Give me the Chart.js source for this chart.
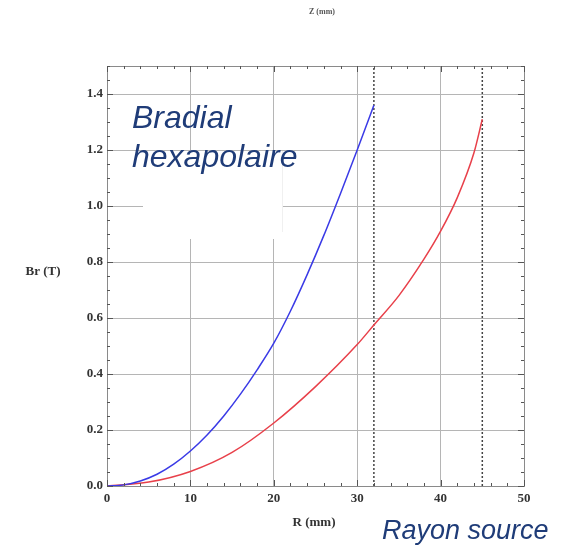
<!DOCTYPE html>
<html>
<head>
<meta charset="utf-8">
<script src="https://cdn.jsdelivr.net/npm/chart.js@4"></script>
<style>
  html, body { margin: 0; padding: 0; background: #ffffff; }
  #wrap { width: 565px; height: 546px; position: relative; }
</style>
</head>
<body>
<div id="wrap"><canvas id="c" width="565" height="546"></canvas></div>
<script>
// ---- data ----
const blueR  = [0, 2, 4, 6, 8, 10, 12, 14, 16, 18, 20, 22, 24, 26, 28, 30, 32];
const blueB  = [0, 0.004, 0.018, 0.042, 0.078, 0.125, 0.182, 0.25, 0.328, 0.415, 0.51, 0.625, 0.755, 0.895, 1.045, 1.2, 1.36];
const redR   = [0, 5, 10, 15, 20, 25, 30, 32, 35, 38, 40, 42, 44, 45];
const redB   = [0, 0.014, 0.052, 0.12, 0.225, 0.355, 0.505, 0.575, 0.68, 0.81, 0.91, 1.03, 1.19, 1.31];
const markerR = [32, 45];          // dotted vertical markers (mm)
const xTicks = [0, 10, 20, 30, 40, 50];
const yTicks = [0.0, 0.2, 0.4, 0.6, 0.8, 1.0, 1.2, 1.4];
const xRange = [0, 50];
const yRange = [0, 1.5];

const toPts = (xs, ys) => xs.map((x, i) => ({ x: x, y: ys[i] }));

const markerSets = markerR.map(r => ({
  data: [{ x: r, y: yRange[0] }, { x: r, y: yRange[1] }],
  showLine: true, borderColor: '#444444', borderWidth: 1.5,
  borderDash: [2, 2], pointRadius: 0, fill: false
}));

const tickFont = { family: 'Liberation Serif', size: 13, weight: 'bold' };

const framePlugin = {
  id: 'frame',
  beforeDatasetsDraw(chart) {
    const ctx = chart.ctx;
    ctx.save();
    // white patch hiding grid behind the label box
    ctx.fillStyle = '#ffffff';
    ctx.fillRect(143, 151, 139, 88);
    ctx.strokeStyle = '#f0f0f0';
    ctx.lineWidth = 1;
    ctx.beginPath(); ctx.moveTo(282.5, 151); ctx.lineTo(282.5, 232); ctx.stroke();
    ctx.restore();
  },
  afterDatasetsDraw(chart) {
    const ctx = chart.ctx;
    const a = chart.chartArea;
    const xs = chart.scales.x, ys = chart.scales.y;
    ctx.save();
    ctx.strokeStyle = '#8a8a8a';
    ctx.lineWidth = 1;
    ctx.strokeRect(Math.round(a.left) + 0.5, Math.round(a.top) + 0.5,
                   Math.round(a.right - a.left), Math.round(a.bottom - a.top));
    ctx.strokeStyle = '#555555';
    ctx.beginPath();
    for (let v = xRange[0]; v <= xRange[1] + 1e-9; v += 2) {
      const px = Math.round(xs.getPixelForValue(v)) + 0.5;
      const len = (v % 10 === 0) ? 6 : 3;
      ctx.moveTo(px, a.bottom); ctx.lineTo(px, a.bottom - len);
      ctx.moveTo(px, a.top); ctx.lineTo(px, a.top + len);
    }
    for (let k = 0; k <= 30; k++) {
      const v = k * 0.05;
      const py = Math.round(ys.getPixelForValue(v)) + 0.5;
      const len = (k % 4 === 0) ? 6 : 3;
      ctx.moveTo(a.left, py); ctx.lineTo(a.left + len, py);
      ctx.moveTo(a.right, py); ctx.lineTo(a.right - len, py);
    }
    ctx.stroke();
    ctx.restore();
  },
  afterDraw(chart) {
    const ctx = chart.ctx;
    ctx.save();
    // cut-off label of the chart above
    ctx.fillStyle = '#555555';
    ctx.font = 'bold 8px "Liberation Serif"';
    ctx.textAlign = 'center';
    ctx.textBaseline = 'middle';
    ctx.fillText('Z (mm)', 322, 12);
    // axis titles
    ctx.fillStyle = '#333333';
    ctx.font = 'bold 13px "Liberation Serif"';
    ctx.fillText('Br (T)', 43, 272);
    ctx.fillText('R (mm)', 314, 523);
    // annotations
    ctx.fillStyle = '#1f3c78';
    ctx.textAlign = 'left';
    ctx.textBaseline = 'alphabetic';
    ctx.font = 'italic 32px "Liberation Sans"';
    ctx.fillText('Bradial', 132, 128);
    ctx.fillText('hexapolaire', 132, 167);
    ctx.font = 'italic 27px "Liberation Sans"';
    ctx.fillText('Rayon source', 382, 539);
    ctx.restore();
  }
};

new Chart(document.getElementById('c'), {
  type: 'scatter',
  data: {
    datasets: [
      { data: toPts(blueR, blueB), showLine: true, borderColor: '#3a3ae6', borderWidth: 1.5,
        pointRadius: 0, cubicInterpolationMode: 'monotone', fill: false },
      { data: toPts(redR, redB), showLine: true, borderColor: '#e8404a', borderWidth: 1.5,
        pointRadius: 0, cubicInterpolationMode: 'monotone', fill: false },
      ...markerSets
    ]
  },
  options: {
    responsive: false,
    animation: false,
    devicePixelRatio: 1,
    layout: { padding: { top: 66, right: 41, bottom: 0, left: 0 } },
    plugins: { legend: { display: false }, tooltip: { enabled: false } },
    scales: {
      x: {
        type: 'linear', min: xRange[0], max: xRange[1],
        afterBuildTicks: s => { s.ticks = xTicks.map(v => ({ value: v })); },
        afterFit: s => { s.height = 60; },
        grid: { color: '#b5b5b5', lineWidth: 1, drawTicks: false },
        border: { display: false },
        ticks: { color: '#333333', font: tickFont, padding: 5, maxRotation: 0,
                 callback: v => String(v) }
      },
      y: {
        type: 'linear', min: yRange[0], max: yRange[1],
        afterBuildTicks: s => { s.ticks = yTicks.map(v => ({ value: v })); },
        afterFit: s => { s.width = 107; },
        grid: { color: '#b5b5b5', lineWidth: 1, drawTicks: false },
        border: { display: false },
        ticks: { color: '#333333', font: tickFont, padding: 4,
                 callback: v => Number(v).toFixed(1) }
      }
    }
  },
  plugins: [framePlugin]
});
</script>
</body>
</html>
